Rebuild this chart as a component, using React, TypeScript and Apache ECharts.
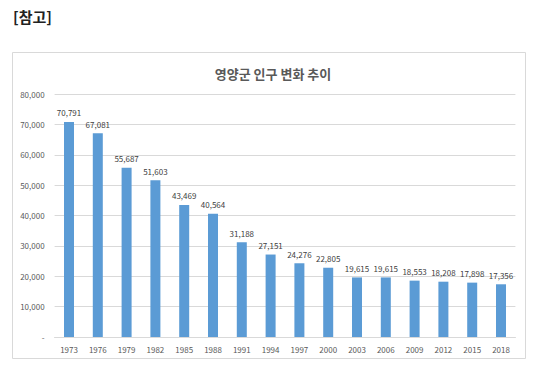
import React, { useEffect, useRef } from "react";
import * as echarts from "echarts";

const years = ["1973","1976","1979","1982","1985","1988","1991","1994","1997","2000","2003","2006","2009","2012","2015","2018"];
const population = [70791,67081,55687,51603,43469,40564,31188,27151,24276,22805,19615,19615,18553,18208,17898,17356];
const chartTitle = "영양군 인구 변화 추이";
const headerText = "[참고]";

export default function App() {
  const ref = useRef<HTMLDivElement>(null);
  useEffect(() => {
    const chart = echarts.init(ref.current!, null, { renderer: "svg" });
    const font = "'Noto Sans CJK KR', 'Noto Sans', sans-serif";
    chart.setOption({
      animation: false,
      backgroundColor: "#ffffff",
      textStyle: { fontFamily: font },
      graphic: [
        { type: "text", left: 13, top: 9, style: { text: headerText, font: `bold 15px ${font}`, fill: "#222" } },
        { type: "rect", shape: { x: 12.5, y: 52.5, width: 513, height: 306 }, style: { fill: "none", stroke: "#d9d9d9", lineWidth: 1 } },
      ],
      title: {
        text: chartTitle,
        left: 268,
        textAlign: "center",
        top: 62,
        textStyle: { fontSize: 13, fontWeight: "bold", color: "#595959", fontFamily: font },
      },
      grid: { left: 54.6, right: 26.6, top: 94, bottom: 38 },
      xAxis: {
        type: "category",
        data: years,
        axisLine: { show: true, lineStyle: { color: "#d9d9d9" } },
        axisTick: { show: false },
        axisLabel: { color: "#595959", fontSize: 8, margin: 8, fontFamily: font },
      },
      yAxis: {
        type: "value",
        min: 0,
        max: 80000,
        interval: 10000,
        axisLine: { show: false },
        axisTick: { show: false },
        splitLine: { lineStyle: { color: "#d9d9d9" } },
        axisLabel: {
          color: "#595959",
          fontSize: 8,
          margin: 10,
          fontFamily: font,
          formatter: (v: number) => (v === 0 ? "-" : v.toLocaleString("en-US")),
        },
      },
      series: [
        {
          type: "bar",
          data: population,
          barWidth: 10,
          itemStyle: { color: "#5b9bd5" },
          label: {
            show: true,
            position: "top",
            distance: 5,
            color: "#404040",
            fontSize: 8,
            fontFamily: font,
            formatter: (p: any) => Number(p.value).toLocaleString("en-US"),
          },
        },
      ],
    });
    return () => chart.dispose();
  }, []);
  return <div ref={ref} style={{ position: "absolute", left: 0, top: 0, width: 542, height: 375 }} />;
}
